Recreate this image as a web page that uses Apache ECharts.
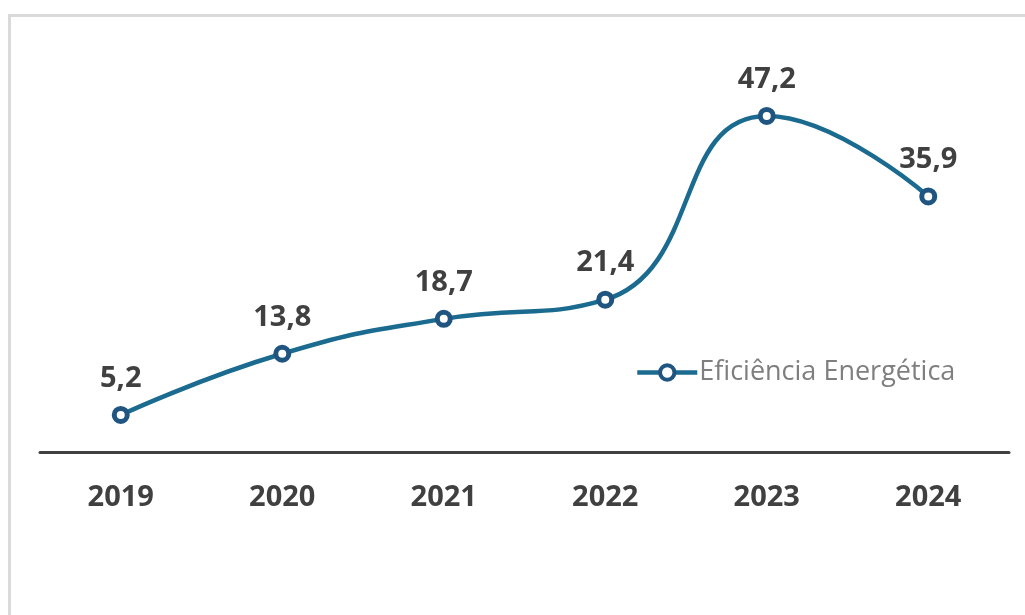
<!DOCTYPE html>
<html>
<head>
<meta charset="utf-8">
<script src="https://cdn.jsdelivr.net/npm/echarts@6/dist/echarts.min.js"></script>
<style>
html,body{margin:0;padding:0;background:#fff;}
#chart{width:1025px;height:615px;}
</style>
</head>
<body>
<div id="chart"></div>
<script>
const categories = ['2019','2020','2021','2022','2023','2024'];
const seriesName = 'Eficiência Energética';
const values = [5.2, 13.8, 18.7, 21.4, 47.2, 35.9];

const chart = echarts.init(document.getElementById('chart'));
chart.setOption({
  animation: false,
  backgroundColor: '#fff',
  graphic: [
    {type:'line', shape:{x1:9.5, y1:15.5, x2:1025, y2:15.5}, style:{stroke:'#dadada', lineWidth:3}},
    {type:'line', shape:{x1:9.5, y1:14, x2:9.5, y2:615}, style:{stroke:'#dadada', lineWidth:3}}
  ],
  grid: {left: 40, right: 16, top: 96, bottom: 163},
  legend: {
    left: 635, top: 359, padding: 0,
    itemWidth: 60, itemHeight: 18, itemGap: 0,
    lineStyle: {width: 4.5, color: '#1b6a8f'},
    itemStyle: {color: '#ffffff', borderColor: '#1f5580', borderWidth: 4},
    textStyle: {fontFamily: 'Open Sans', fontSize: 27, color: '#7f7f7f', padding:[0,0,0,-3]},
    data: [seriesName]
  },
  xAxis: {
    type: 'category',
    data: categories,
    boundaryGap: true,
    axisLine: {lineStyle: {color: '#404040', width: 3}},
    axisTick: {show: false},
    axisLabel: {margin: 31, fontFamily: 'Open Sans', fontWeight: 'bold', fontSize: 29, color: '#404040'}
  },
  yAxis: {
    type: 'value', min: 0, max: 50, show: false,
    splitLine: {show: false}
  },
  series: [{
    name: seriesName,
    type: 'line',
    data: values,
    smooth: 0.5,
    symbol: 'circle',
    symbolSize: 13,
    lineStyle: {color: '#1b6a8f', width: 4.5},
    itemStyle: {color: '#ffffff', borderColor: '#1f5580', borderWidth: 5},
    label: {
      show: true, position: 'top', distance: 13,
      fontFamily: 'Open Sans', fontWeight: 'bold', fontSize: 29, color: '#404040',
      formatter: p => String(p.value).replace('.', ',')
    }
  }]
});
</script>
</body>
</html>
